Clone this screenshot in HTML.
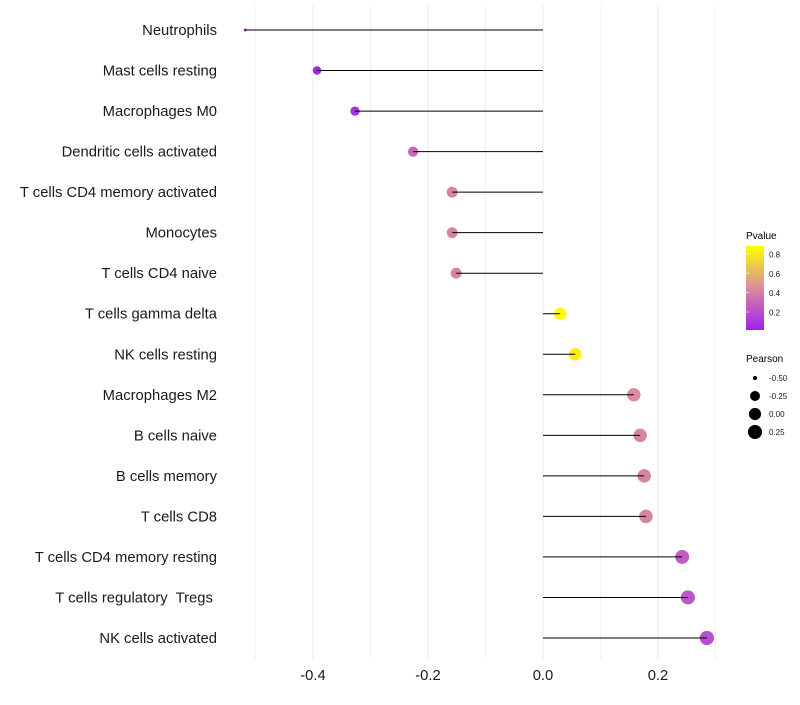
<!DOCTYPE html>
<html><head><meta charset="utf-8"><style>
body{margin:0;background:#fff;font-family:"Liberation Sans",sans-serif;}
svg text{font-family:"Liberation Sans",sans-serif;white-space:pre;}
</style></head><body>
<svg id="chart" width="800" height="700" xmlns="http://www.w3.org/2000/svg">
<g id="grid"></g>
<g id="marks"></g>
<g id="ylabels"></g>
<g id="xlabels"></g>
<g id="legend">
<defs><linearGradient id="pg" x1="0" y1="1" x2="0" y2="0">
<stop offset="0" stop-color="#A020F0"/><stop offset="0.5" stop-color="#D98C9C"/><stop offset="1" stop-color="#FFFF00"/></linearGradient></defs>
<text x="746" y="239" font-size="10" fill="#000">Pvalue</text>
<rect x="746" y="246" width="18" height="84" fill="url(#pg)"/>
<g id="cbticks"></g>
<text x="746" y="362" font-size="10" fill="#000">Pearson</text>
<g id="sizeleg"></g>
</g>
</svg>
<script>
const categories=["Neutrophils","Mast cells resting","Macrophages M0","Dendritic cells activated","T cells CD4 memory activated","Monocytes","T cells CD4 naive","T cells gamma delta","NK cells resting","Macrophages M2","B cells naive","B cells memory","T cells CD8","T cells CD4 memory resting","T cells regulatory  Tregs ","NK cells activated"];
const pearson=[-0.518,-0.393,-0.327,-0.226,-0.158,-0.158,-0.151,0.030,0.056,0.158,0.169,0.176,0.179,0.242,0.252,0.285];
const pvalues=[0.03,0.04,0.08,0.3,0.42,0.42,0.42,0.88,0.82,0.45,0.42,0.42,0.42,0.25,0.23,0.2];
const xTicks=[-0.4,-0.2,0.0,0.2];
const xTickLabels=["-0.4","-0.2","0.0","0.2"];
const xMinor=[-0.5,-0.3,-0.1,0.1,0.3];
const cbTicks=[0.2,0.4,0.6,0.8];
const sizeLegend=[-0.50,-0.25,0.00,0.25];
const sizeLegendLabels=["-0.50","-0.25","0.00","0.25"];

const NS="http://www.w3.org/2000/svg";
const x=v=>543+v*575;
const y=i=>30+i*(608/15);
function r(v){
 if(v>=-0.393) return Math.sqrt(18+(v+0.393)*48.7);
 const t=Math.max(0,(v+0.518)/0.125);
 return Math.sqrt(2.25+t*15.75);
}
const pMin=0.014,pMax=0.883;
function mix(a,b,t){return a.map((c,i)=>Math.round(c+(b[i]-c)*t));}
function col(p){let t=(p-pMin)/(pMax-pMin);t=Math.max(0,Math.min(1,t));
 const A=[160,32,240],M=[217,140,156],B=[255,255,0];
 const c=t<0.5?mix(A,M,t*2):mix(M,B,(t-0.5)*2);return `rgb(${c})`;}
function mk(tag,attrs,parent){const e=document.createElementNS(NS,tag);for(const k in attrs)e.setAttribute(k,attrs[k]);parent.appendChild(e);return e;}
const grid=document.getElementById('grid');
xMinor.forEach(v=>{const l=mk('line',{x1:x(v),x2:x(v),y1:5,y2:660,stroke:'#f2f2f2','stroke-width':1},grid);
 
 });
xTicks.forEach(v=>{const l=mk('line',{x1:x(v),x2:x(v),y1:5,y2:660,stroke:'#ebebeb','stroke-width':1},grid);
 
 });
const marks=document.getElementById('marks'),yl=document.getElementById('ylabels'),xl=document.getElementById('xlabels');
categories.forEach((c,i)=>{
 const d=mk('circle',{cx:x(pearson[i]),cy:y(i),r:r(pearson[i]),fill:col(pvalues[i])},marks);
 
 
 const ln=mk('line',{x1:x(0),x2:x(pearson[i]),y1:y(i),y2:y(i),stroke:'#000','stroke-width':1},marks);
 
 
 const t=mk('text',{x:217,y:y(i)+5,'text-anchor':'end','font-size':14.8,fill:'#1a1a1a'},yl);t.textContent=c;
 
 
});
xTicks.forEach((v,i)=>{const t=mk('text',{x:x(v),y:680,'text-anchor':'middle','font-size':14.8,fill:'#1a1a1a'},xl);t.textContent=xTickLabels[i];
 
 });
const cb=document.getElementById('cbticks');
const cy=p=>330-(p-pMin)/(pMax-pMin)*84;
cbTicks.forEach(p=>{
 const t=mk('text',{x:769,y:cy(p)+3.5,'font-size':8,fill:'#1a1a1a'},cb);t.textContent=p.toFixed(1);
 
 
 const a=mk('line',{x1:746,x2:749,y1:cy(p),y2:cy(p),stroke:'#fff','stroke-width':0.6},cb);
 
 });
const sl=document.getElementById('sizeleg');
sizeLegend.forEach((v,i)=>{const yy=378+i*18;
 const c=mk('circle',{cx:755,cy:yy,r:r(v),fill:'#000'},sl);
 
 
 const t=mk('text',{x:769,y:yy+3,'font-size':8,fill:'#1a1a1a'},sl);t.textContent=sizeLegendLabels[i];
 
 });
</script>
</body></html>
